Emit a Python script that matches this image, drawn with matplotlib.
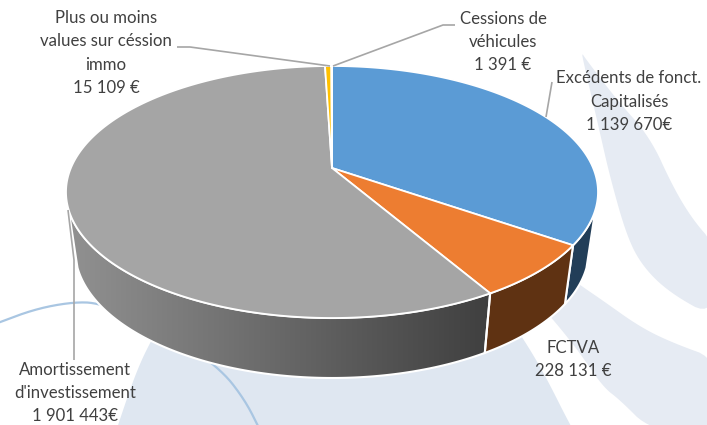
import numpy as np
import matplotlib
matplotlib.use("Agg")
import matplotlib.pyplot as plt
from matplotlib.patches import Polygon
from matplotlib.colors import LinearSegmentedColormap

# ---- data ----
categories = ["Excédents de fonct.\nCapitalisés", "FCTVA", "Amortissement\nd'investissement",
              "Plus ou moins\nvalues sur céssion\nimmo", "Cessions de\nvéhicules"]
values = [1139670, 228131, 1901443, 15109, 1391]
value_labels = ["1 139 670€", "228 131 €", "1 901 443€", "15 109 €", "1 391 €"]

# ---- style ----
top_colors = ["#5B9BD5", "#ED7D31", "#A5A5A5", "#FFC000", "#4472C4"]
wall_colors = ["#223E58", "#5F3212", None, "#7F6000", "#2A4478"]
text_color = "#404040"
leader_color = "#A6A6A6"

plt.rcParams["font.family"] = ["Lato", "DejaVu Sans"]
fig = plt.figure(figsize=(7.07, 4.25), dpi=100)
ax = fig.add_axes([0, 0, 1, 1])
ax.axis("off")


def smooth(pts, n=4):
    p = np.asarray(pts, float)
    for _ in range(n):
        q = np.empty((2 * len(p), 2))
        q[0::2] = 0.75 * p + 0.25 * np.roll(p, -1, axis=0)
        q[1::2] = 0.25 * p + 0.75 * np.roll(p, -1, axis=0)
        p = q
    return p


def smooth_open(pts, n=4):
    p = np.asarray(pts, float)
    for _ in range(n):
        a = 0.75 * p[:-1] + 0.25 * p[1:]
        b = 0.25 * p[:-1] + 0.75 * p[1:]
        q = np.empty((2 * len(a), 2))
        q[0::2] = a
        q[1::2] = b
        p = np.vstack([p[0], q, p[-1]])
    return p


# ---- background watermark ----
bg_a = [(582, 53), (585, 58), (617, 100), (650, 137), (673, 187), (693, 220), (715, 245),
        (715, 318), (670, 293), (643, 267), (627, 237), (610, 177), (600, 133), (583, 60)]
bg_b = [(560, 270), (580, 285), (602, 300), (640, 327), (673, 343), (720, 360), (720, 440),
        (650, 430), (620, 400), (603, 387), (580, 353), (552, 318), (530, 295)]
bg_c = [(175, 300), (150, 342), (135, 375), (118, 425), (110, 450), (585, 450), (570, 425),
        (545, 375), (523, 338), (490, 290), (330, 260)]
for pts, col in [(bg_a, "#E6EBF3"), (bg_b, "#E6EBF3"), (bg_c, "#DFE7F1")]:
    ax.add_patch(Polygon(smooth(pts, 3), closed=True, fc=col, ec="none", zorder=1))
arc = smooth_open([(-5, 324), (35, 309), (73, 302), (100, 303), (160, 326), (220, 368),
                   (245, 400), (260, 430)], 4)
ax.plot(arc[:, 0], arc[:, 1], color="#A9C6E2", lw=1.6, zorder=1.5)

# ---- pie geometry ----
cx = 332
apex_y, tilt = 168, 0.46
top_a, top_b, top_cy = 266, 126, 192
bot_a, bot_b, bot_cy = 257, 128, 250
t_lo, t_hi = np.radians(8), np.radians(172)


def rim_param(theta):
    """ellipse parameter t of the rim point hit from the apex at pie angle theta."""
    dx, dy = np.sin(theta), -tilt * np.cos(theta)
    off = apex_y - top_cy
    A = (dx / top_a) ** 2 + (dy / top_b) ** 2
    B = 2 * dy * off / top_b ** 2
    C = (off / top_b) ** 2 - 1
    s = (-B + np.sqrt(B * B - 4 * A * C)) / (2 * A)
    x, y = dx * s, off + dy * s
    t = np.arctan2(y / top_b, x / top_a)
    if t < -np.pi / 2 - 1e-6:
        t += 2 * np.pi
    return t


def top_xy(t):
    return np.c_[cx + top_a * np.cos(t), top_cy + top_b * np.sin(t)]


def bot_xy(t):
    return np.c_[cx + bot_a * np.cos(t), bot_cy + bot_b * np.sin(t)]


fractions = np.array(values, float) / np.sum(values)
edges = np.concatenate([[0], np.cumsum(fractions)]) * 2 * np.pi
ts = [rim_param(th) for th in edges[:-1]] + [1.5 * np.pi]

gray_cmap = LinearSegmentedColormap.from_list("wall", ["#919191", "#3F3F3F"])

# walls
for i in range(len(values)):
    t0, t1 = max(ts[i], t_lo), min(ts[i + 1], t_hi)
    if t0 >= t1:
        continue
    t = np.linspace(t0, t1, 200)
    poly = np.vstack([top_xy(t), bot_xy(t[::-1])])
    if wall_colors[i] is None:
        pg = Polygon(poly, closed=True, fc="none", ec="none", zorder=3)
        ax.add_patch(pg)
        im = ax.imshow(np.linspace(0, 1, 256)[None, :], cmap=gray_cmap, aspect="auto",
                       extent=[poly[:, 0].min(), poly[:, 0].max(), 400, 200],
                       zorder=3)
        im.set_clip_path(pg)
        ax.add_patch(Polygon(poly, closed=True, fc="none", ec="white", lw=1.5, zorder=3.2))
    else:
        ax.add_patch(Polygon(poly, closed=True, fc=wall_colors[i], ec="white", lw=1.5, zorder=3.1))

# top faces
for i in range(len(values)):
    t = np.linspace(ts[i], ts[i + 1], 300)
    poly = np.vstack([[[cx, apex_y]], top_xy(t)])
    ax.add_patch(Polygon(poly, closed=True, fc=top_colors[i], ec="white", lw=1.3,
                         joinstyle="round", zorder=4))

# ---- leader lines ----
leaders = [[(177, 47), (190, 47), (330, 66)],
           [(455, 25), (443, 25), (333, 66)],
           [(552, 82), (546, 117)],
           [(68, 210), (74, 260), (74, 360)]]
for ln in leaders:
    xs, ys = zip(*ln)
    ax.plot(xs, ys, color=leader_color, lw=1.2, zorder=5, solid_capstyle="butt")

# ---- labels ----
label_pos = [(629, 101.5), (573, 359.5), (75, 393), (106, 53), (503, 42)]
for cat, val, (x, y) in zip(categories, value_labels, label_pos):
    ax.text(x, y, f"{cat}\n{val}", ha="center", va="center", color=text_color,
            fontsize=12.1, linespacing=1.55, zorder=6)

ax.set_xlim(0, 707)
ax.set_ylim(425, 0)
fig.savefig("out.png", dpi=100, facecolor="white")
